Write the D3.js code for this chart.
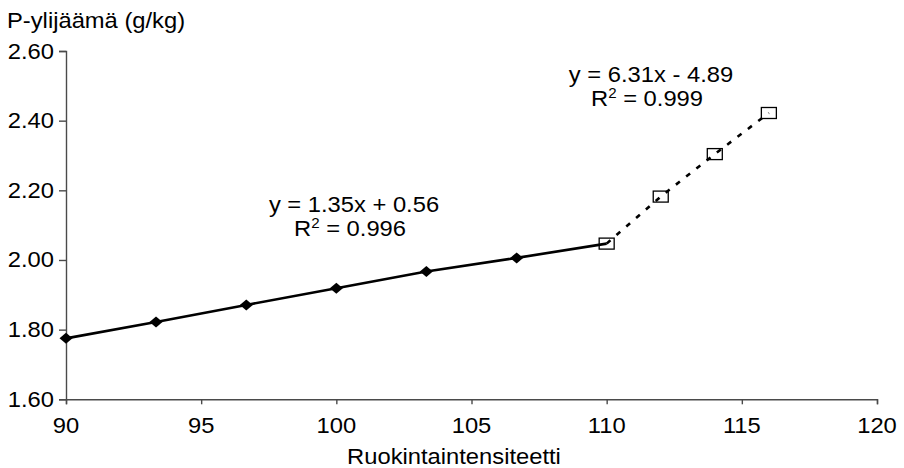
<!DOCTYPE html>
<html lang="fi">
<head>
    <meta charset="UTF-8">
    <title>P-ylijäämä</title>
    <script src="https://cdn.jsdelivr.net/npm/d3@7/dist/d3.min.js"></script>
    <style>
        html, body {
            margin: 0;
            background: #fff;
        }

        text {
            font-family: "Liberation Sans", Arial, sans-serif;
            font-size: 22px;
            fill: #000;
        }
    </style>
</head>
<body>
<script>

    // data
    var intensity1 = [90, 93.33, 96.67, 100, 103.33, 106.67, 110];
    var surplus1 = [1.775, 1.822, 1.871, 1.919, 1.967, 2.006, 2.047];
    var intensity2 = [110, 112, 114, 116];
    var surplus2 = [2.047, 2.182, 2.304, 2.422];
    var xTicks = [90, 95, 100, 105, 110, 115, 120];
    var yTicks = [1.6, 1.8, 2.0, 2.2, 2.4, 2.6];
    var yTitle = "P-ylijäämä (g/kg)";
    var xTitle = "Ruokintaintensiteetti";
    var eq1 = ["y = 1.35x + 0.56", "0.996"];
    var eq2 = ["y = 6.31x - 4.89", "0.999"];

    var width = 904, height = 468;
    var stretch = 1.08;  // text in the picture is a little wide

    var svg = d3.select('body').append('svg')
        .attr('width', width).attr('height', height);

    var x = d3.scaleLinear().domain([90, 120]).range([66, 877]);
    var y = d3.scaleLinear().domain([1.6, 2.6]).range([399.3, 51]);

    var pts1 = intensity1.map(function (d, i) { return {x: d, y: surplus1[i]}; });
    var pts2 = intensity2.map(function (d, i) { return {x: d, y: surplus2[i]}; });

    function label(px, py, anchor) {
        return svg.append('text')
            .attr('text-anchor', anchor)
            .attr('transform', 'translate(' + px + ',' + py + ') scale(' + stretch + ',1)');
    }

    // axes
    var xAxis = d3.axisBottom(x).tickValues(xTicks).tickSize(5).tickFormat(d3.format('d'));
    var yAxis = d3.axisLeft(y).tickValues(yTicks).tickSize(7).tickFormat(d3.format('.2f'));

    var gx = svg.append('g').attr('transform', 'translate(0,' + y(1.6) + ')').call(xAxis);
    var gy = svg.append('g').attr('transform', 'translate(' + x(90) + ',0)').call(yAxis);

    [gx, gy].forEach(function (g) {
        g.select('.domain').attr('stroke', '#4a4a4a').attr('stroke-width', 1.4);
        g.selectAll('.tick line').attr('stroke', '#4a4a4a').attr('stroke-width', 1.4);
        g.selectAll('.tick text').remove();
    });
    // tick labels drawn separately so they can be widened
    xTicks.forEach(function (t) {
        label(x(t), 433, 'middle').text(t);
    });
    yTicks.forEach(function (t) {
        label(54, y(t) + 7.5, 'end').text(d3.format('.2f')(t));
    });

    // square markers (drawn under the lines)
    svg.selectAll('rect.sq')
        .data(pts2)
        .enter().append('rect')
        .attr('class', 'sq')
        .attr('x', function (d) { return x(d.x) - 7.5; })
        .attr('y', function (d) { return y(d.y) - 5.5; })
        .attr('width', 15).attr('height', 11)
        .attr('fill', '#fff').attr('stroke', '#000').attr('stroke-width', 1.3);

    var line = d3.line()
        .x(function (d) { return x(d.x); })
        .y(function (d) { return y(d.y); });

    svg.append('path').attr('d', line(pts1))
        .attr('fill', 'none').attr('stroke', '#000').attr('stroke-width', 2.6);
    svg.append('path').attr('d', line(pts2))
        .attr('fill', 'none').attr('stroke', '#000').attr('stroke-width', 2.6)
        .attr('stroke-dasharray', '5,8');

    // diamonds
    svg.selectAll('path.dia')
        .data(pts1.slice(0, 6))
        .enter().append('path')
        .attr('class', 'dia')
        .attr('d', 'M0,-5.5L6.5,0L0,5.5L-6.5,0Z')
        .attr('transform', function (d) { return 'translate(' + x(d.x) + ',' + y(d.y) + ')'; })
        .attr('fill', '#000');

    // titles
    label(7, 28, 'start').text(yTitle);
    label(454, 464, 'middle').text(xTitle);

    // trendline equations
    function equation(cx, by, e) {
        label(cx, by, 'middle').text(e[0]);
        var t = label(cx - 4, by + 24, 'middle');
        t.append('tspan').text('R');
        t.append('tspan').attr('font-size', '14px').attr('dy', -8).text('2');
        t.append('tspan').attr('dy', 8).text(' = ' + e[1]);
    }
    equation(354, 212, eq1);
    equation(651, 82, eq2);

</script>
</body>
</html>
